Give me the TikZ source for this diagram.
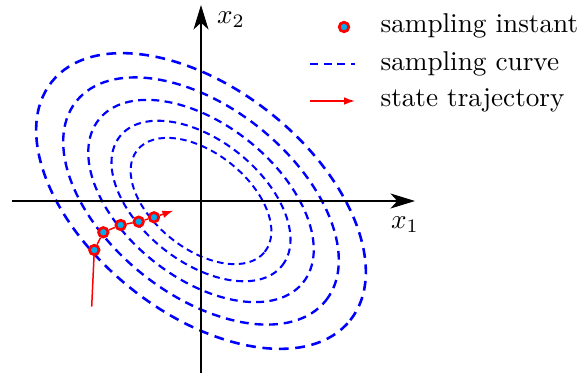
\documentclass[tikz,border=0pt]{standalone}
\usetikzlibrary{arrows.meta}
\tikzset{
  axis/.style={line width=0.55pt,-{Stealth[length=9pt,width=5.5pt,inset=2.5pt]}},
  curve/.style={blue,line cap=butt},
  sample/.style={circle,draw=red,fill=cyan,line width=1pt,minimum size=3.5pt,inner sep=0pt},
  traj/.style={red,line width=0.55pt},
}
\begin{document}
\begin{tikzpicture}[x=0.3676pt,y=0.3676pt,>={Latex[length=4pt,width=2.8pt]}]
    \useasboundingbox (-201,-175) rectangle (381,201);
    % sampling curves
    \foreach \s/\w/\d in {1/0.95/3.6,0.836/0.88/3.2,0.684/0.82/2.9,0.543/0.76/2.6,0.427/0.72/2.4}
        \draw[curve,line width=\w pt,dash pattern=on \d pt off {0.68*\d} pt,rotate=-38.6]
            (0,0) ellipse ({191*\s} and {112*\s});
    % axes
    \coordinate (xs) at (-189,0);
    \coordinate (xe) at (214,0);
    \coordinate (ys) at (0,-172);
    \coordinate (ye) at (0,196);
    \draw[axis] (xs) -- (xe);
    \draw[axis] (ys) -- (ye);
    \node (xl) at (204,-24) {$x_1$};
    \node (yl) at (30,181) {$x_2$};
    % state trajectory
    \coordinate (t0) at (-109.3,-105.7);
    \coordinate (tip) at (-27.7,-9.7);
    \node[sample] (s1) at (-106.7,-49) {};
    \node[sample] (s2) at (-97.7,-31.3) {};
    \node[sample] (s3) at (-80.3,-24) {};
    \node[sample] (s4) at (-62.3,-20.7) {};
    \node[sample] (s5) at (-47,-16.3) {};
    \draw[traj] (t0) -- (s1) -- (s2) -- (s3) -- (s4) -- (s5);
    \draw[traj,->] (s5) -- (tip);
    % legend
    \node[sample] (ls) at (143,174) {};
    \node[anchor=base west,inner sep=0pt] (lt1) at (179,168) {sampling instant};
    \coordinate (lc1) at (109,137);
    \coordinate (lc2) at (154,137);
    \draw[curve,line width=0.9pt,dash pattern=on 3pt off 2pt] (lc1) -- (lc2);
    \node[anchor=base west,inner sep=0pt] (lt2) at (179,130) {sampling curve};
    \coordinate (la1) at (109,100);
    \coordinate (la2) at (154,100);
    \draw[traj,->] (la1) -- (la2);
    \node[anchor=base west,inner sep=0pt] (lt3) at (179,94) {state trajectory};
\end{tikzpicture}
\end{document}
